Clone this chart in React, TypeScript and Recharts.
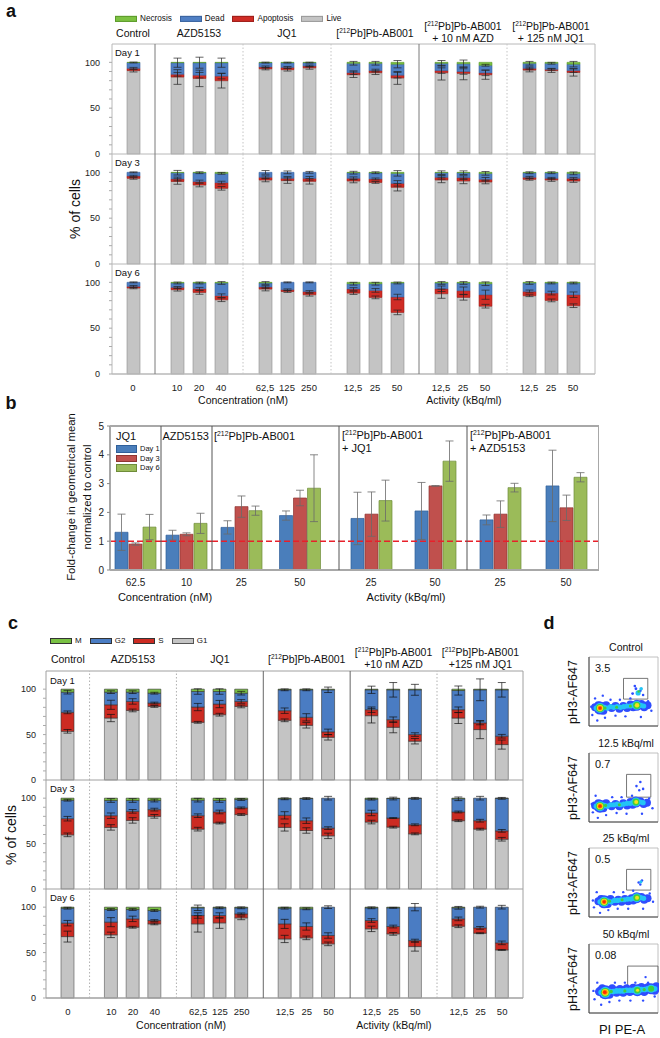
import React from "react";
import {
  BarChart,
  Bar,
  XAxis,
  YAxis,
  ReferenceLine,
  ReferenceArea,
  ErrorBar,
  ScatterChart,
  Scatter,
} from "recharts";

const FONT = "'Liberation Sans', Arial, Helvetica, sans-serif";

// x slots shared by panels a and c ("" = empty slot between groups)
const doseSlots = ["0", "", "10", "20", "40", "", "62,5", "125", "250", "", "12,5", "25", "50", "", "12,5", "25", "50", "", "12,5", "25", "50"];

// ---- panel a: viability (%), 16 bars per day ----
const liveD1 = [91, 84, 82.5, 80, 93, 92, 94, 86.5, 88.7, 83, 88.7, 88, 86.5, 91.6, 91, 89];
const apopD1 = [2.5, 3, 3.5, 5, 2, 2.5, 2, 2.2, 2.3, 3, 2.3, 2, 2, 1.9, 1.4, 2];
const deadD1 = [6.3, 12.6, 13.6, 14.6, 4.7, 5.2, 3.7, 10.3, 8, 12, 8, 8.5, 8.3, 5.5, 6.6, 7];
const necrD1 = [0.2, 0.4, 0.4, 0.4, 0.3, 0.3, 0.3, 1, 1, 2, 1, 1.5, 3.2, 1, 1, 2];
const liveErrD1 = [1.5, 8, 9, 8, 1.2, 1.5, 1.5, 3, 2, 7, 8, 7, 5, 2, 2, 4];
const apopErrD1 = [1, 2, 3, 3, 1, 1, 1, 2, 1.5, 3, 3, 3, 3, 1.5, 1, 2];
const deadErrD1 = [0.5, 5, 6, 5, 0.5, 0.5, 0.5, 2, 2, 4, 3, 4, 1, 2, 1, 3];

const liveD3 = [93.5, 90, 86.2, 82.6, 91.7, 91, 90.2, 90.6, 89, 83.7, 91.7, 90.6, 89.5, 92.4, 91.7, 90.6];
const apopD3 = [2.5, 2.8, 3.8, 6.2, 2.9, 2.5, 3.3, 2.9, 3.8, 4.3, 2.9, 3.6, 2.9, 2.2, 1.8, 2.9];
const deadD3 = [4, 6.8, 9.6, 10.1, 5.4, 6.5, 6.5, 6.1, 6.8, 10.9, 5, 5.4, 6.5, 5, 6.1, 5.4];
const necrD3 = [0, 0.4, 0.4, 1.1, 0, 0, 0, 0.4, 0.4, 1.1, 0.4, 0.4, 1.1, 0.4, 0.4, 1.1];
const liveErrD3 = [1, 3, 2, 2, 2, 3, 3, 2, 1, 4, 3, 3, 2, 1, 1.5, 1.5];
const apopErrD3 = [0.8, 2, 1.5, 1.5, 1.5, 2, 2, 1.5, 1, 3, 2, 2, 2, 1, 1, 1];
const deadErrD3 = [0.5, 2.5, 1, 1, 2, 1.5, 1, 1.5, 1, 3, 2, 2, 2, 1, 1, 1.5];

const liveD6 = [93.8, 92, 89, 81, 92.7, 90, 86.5, 88.3, 83.6, 67.2, 87.6, 83.6, 74, 85.4, 80.3, 74.5];
const apopD6 = [1.8, 2.5, 4, 4.4, 2.2, 2, 3.5, 4.4, 7.6, 16.8, 5.4, 7.3, 12.5, 4.7, 8, 12];
const deadD6 = [4.4, 4.8, 6.3, 13.9, 4.4, 8, 10, 5.8, 7.3, 15.3, 6.3, 8.4, 12, 9.2, 11, 12.8];
const necrD6 = [0, 0.7, 0.7, 0.7, 0.7, 0, 0, 1.5, 1.5, 0.7, 0.7, 0.7, 1.5, 0.7, 0.7, 0.7];
const liveErrD6 = [0.8, 1.5, 2, 2, 2, 1, 1.5, 1.5, 1.5, 2.5, 5, 3, 2, 1, 1.5, 2];
const apopErrD6 = [1, 1, 1.5, 2, 1.5, 0.8, 1, 1.5, 2, 3, 3, 4, 5, 1.5, 2, 3];
const deadErrD6 = [0.5, 1, 1, 1.5, 1.5, 0.5, 0.5, 1.5, 1.5, 1, 1.5, 1.5, 2, 1.5, 1, 1];

// ---- panel b: fold change of pH3 geometric mean ----
const foldLabels = ["62.5", "10", "25", "50", "25", "50", "25", "50"];
const foldDay1 = [1.31, 1.21, 1.48, 1.89, 1.79, 2.05, 1.74, 2.92];
const foldDay3 = [0.9, 1.24, 2.2, 2.5, 1.94, 2.92, 1.94, 2.16];
const foldDay6 = [1.49, 1.62, 2.06, 2.84, 2.41, 3.78, 2.86, 3.22];
const foldErr1 = [0.63, 0.17, 0.23, 0.16, 0.91, 0.99, 0.17, 1.24];
const foldErr3 = [0.04, 0.05, 0.37, 0.27, 0.77, 0.01, 0.46, 0.44];
const foldErr6 = [0.44, 0.35, 0.16, 1.16, 0.71, 0.7, 0.15, 0.16];

// ---- panel c: cell cycle (%), 16 bars per day ----
const g1D1 = [53.6, 68.2, 76.6, 81, 63.5, 71.9, 81, 65.7, 60.2, 47, 70.8, 58, 42.7, 68.2, 55.5, 39];
const sD1 = [20.9, 14.6, 9.9, 3.7, 16.8, 11.7, 5.5, 10.6, 8.8, 6, 6.6, 8.4, 7.3, 9.2, 7.3, 9.2];
const g2D1 = [22.2, 13.9, 10.2, 10.9, 17.1, 13.8, 9.1, 23, 30.3, 46.3, 21.9, 32.9, 49.3, 21.1, 36.5, 51.1];
const mD1 = [3.3, 3.3, 3.3, 4.4, 2.6, 2.6, 4.4, 0.7, 0.7, 0.7, 0.7, 0.7, 0.7, 1.5, 0.7, 0.7];
const g1ErrD1 = [2, 4, 1.5, 1, 1, 1.5, 1.5, 1.5, 3, 3, 8, 6, 3, 6, 10, 5];
const sErrD1 = [1.5, 5, 3, 1, 4, 4, 2, 3, 4, 3, 3, 3, 2, 3, 2, 2];
const g2ErrD1 = [2, 1.5, 1.5, 1, 3, 3, 2, 1, 1, 3, 4, 8, 6, 5, 12, 8];

const g1D3 = [59.6, 67.8, 75.5, 80, 65.9, 72.6, 81.9, 67.8, 64.4, 58.5, 73.7, 68.1, 60.7, 75.2, 65.9, 54.8];
const sD3 = [17.8, 12.9, 10, 7.4, 14.8, 12.2, 7.4, 13.3, 10.8, 8.5, 10, 10, 10, 9.6, 9.3, 9.2];
const g2D3 = [20.4, 16.7, 11.9, 10, 17.1, 12.6, 9.2, 18.2, 24.4, 33, 15.2, 21.5, 29.1, 14.5, 24.8, 35.8];
const mD3 = [2.2, 2.6, 2.6, 2.6, 2.2, 2.6, 1.5, 0.7, 0.4, 0, 1.1, 0.4, 0.2, 0.7, 0, 0.2];
const g1ErrD3 = [2, 3, 3, 2, 2, 1, 1, 4, 3, 3, 2, 1, 1, 1, 1, 2];
const sErrD3 = [2.5, 3, 2, 1.5, 2, 2, 1, 4, 3, 1.5, 3, 0.5, 1, 1, 1.5, 1.5];
const g2ErrD3 = [1, 2, 2, 1.5, 2, 2, 1, 1, 1, 2, 1, 1.5, 1, 2, 2, 1];

const g1D6 = [67.6, 69.5, 77.9, 81.6, 81.6, 82.7, 88.2, 65, 66.2, 59.6, 76.1, 70.6, 56.6, 79, 71.3, 52.9];
const sD6 = [14.8, 14, 9.2, 3.7, 9.2, 8.1, 4.4, 16.6, 12.5, 9.2, 9.2, 8.1, 6.6, 8.1, 5.9, 7.8];
const g2D6 = [16.5, 13.9, 10.3, 11, 8.5, 8.5, 6.7, 17.3, 19.5, 31.2, 14, 20.6, 36.8, 12.2, 22.8, 39.3];
const mD6 = [1.1, 2.6, 2.6, 3.7, 0.7, 0.7, 0.7, 1.1, 1.8, 0, 0.7, 0.7, 0, 0.7, 0, 0];
const g1ErrD6 = [6, 3, 1, 1, 9, 6, 2, 4, 2, 2, 3, 1.5, 5, 1.5, 0.5, 0.5];
const sErrD6 = [3, 5, 3, 1, 3, 3, 1, 5, 4, 3, 2, 1.5, 1.5, 2, 1.5, 2];
const g2ErrD6 = [1, 1, 1, 1, 3, 1, 1, 1, 1, 1.5, 1, 0.5, 4, 1.5, 1, 2];

// ---- panel d: flow cytometry density, [PI, pH3, density level, radius] ----
const flowCtrl = [
  [12, 16, 0, 1.2], [22, 40, 0, 1.2], [30, 8, 0, 1.2], [58, 12, 0, 1.2], [78, 38, 0, 1.2], [96, 15, 0, 1.2], [112, 38, 0, 1.2],
  [132, 14, 0, 1.2], [150, 40, 0, 1.2], [188, 13, 0, 1.2], [214, 36, 0, 1.2], [226, 22, 0, 1.2], [50, 44, 0, 1.2], [8, 28, 0, 1.2],
  [22, 27, 0, 4], [34, 30, 0, 4], [52, 22, 0, 4], [62, 30, 0, 4], [82, 26, 0, 4], [96, 29, 0, 4], [110, 25, 0, 4],
  [124, 29, 0, 4], [138, 26, 0, 4], [150, 31, 0, 4], [160, 27, 0, 4], [190, 32, 0, 4], [200, 27, 0, 4], [212, 30, 0, 4],
  [40, 26, 0, 6.5], [173, 30, 0, 5.5],
  [26, 26, 1, 2.6], [56, 27, 1, 2.6], [66, 26, 1, 2.6], [78, 28, 1, 2.6], [90, 27, 1, 2.6], [102, 28, 1, 2.6], [114, 27, 1, 2.6],
  [126, 28, 1, 2.6], [138, 29, 1, 2.6], [150, 29, 1, 2.6], [160, 30, 1, 2.6], [188, 30, 1, 2.6], [198, 29, 1, 2.6],
  [40, 26, 1, 5], [173, 30, 1, 4.5],
  [40, 26, 2, 4], [173, 30, 2, 3.6], [58, 26, 2, 1.6], [100, 27, 2, 1.5], [150, 29, 2, 1.5],
  [40, 26, 3, 3.1], [174, 30, 3, 2.2], [40, 26, 4, 2.3], [40, 26, 5, 1.6],
  [158, 47, 0, 1.4], [170, 54, 0, 1.4], [186, 51, 0, 1.4], [196, 45, 0, 1.3], [166, 58, 0, 1.3],
  [178, 48, 1, 2.6], [189, 54, 1, 1.8], [180, 50, 2, 1.3],
];
const flow125 = [
  [14, 14, 0, 1.2], [24, 38, 0, 1.2], [32, 6, 0, 1.2], [62, 10, 0, 1.2], [84, 36, 0, 1.2], [100, 13, 0, 1.2], [118, 36, 0, 1.2],
  [136, 12, 0, 1.2], [156, 38, 0, 1.2], [192, 12, 0, 1.2], [218, 34, 0, 1.2], [230, 20, 0, 1.2], [10, 26, 0, 1.2],
  [22, 24, 0, 4], [34, 27, 0, 4], [52, 20, 0, 4], [62, 27, 0, 4], [82, 23, 0, 4], [96, 26, 0, 4], [110, 23, 0, 4],
  [124, 27, 0, 4], [138, 24, 0, 4], [150, 29, 0, 4], [158, 25, 0, 4], [186, 30, 0, 4], [198, 26, 0, 4], [210, 28, 0, 4],
  [40, 23, 0, 6.5], [170, 29, 0, 5.5],
  [26, 23, 1, 2.6], [56, 24, 1, 2.6], [66, 23, 1, 2.6], [78, 25, 1, 2.6], [90, 25, 1, 2.6], [102, 26, 1, 2.6], [114, 25, 1, 2.6],
  [126, 26, 1, 2.6], [138, 27, 1, 2.6], [150, 27, 1, 2.6], [158, 28, 1, 2.6], [186, 29, 1, 2.6], [196, 28, 1, 2.6],
  [40, 23, 1, 5], [170, 29, 1, 4.5],
  [40, 23, 2, 4], [170, 29, 2, 3.4], [60, 24, 2, 1.6], [110, 25, 2, 1.5],
  [40, 23, 3, 3.1], [171, 29, 3, 2], [40, 23, 4, 2.3], [40, 23, 5, 1.6],
  [172, 52, 0, 1.3], [186, 58, 0, 1.3], [196, 48, 0, 1.3], [182, 46, 0, 1.2],
];
const flow25 = [
  [18, 14, 0, 1.2], [28, 36, 0, 1.2], [40, 6, 0, 1.2], [70, 10, 0, 1.2], [90, 36, 0, 1.2], [104, 12, 0, 1.2], [124, 36, 0, 1.2],
  [142, 12, 0, 1.2], [160, 38, 0, 1.2], [196, 12, 0, 1.2], [220, 34, 0, 1.2], [232, 22, 0, 1.2], [14, 24, 0, 1.2],
  [34, 23, 0, 4], [44, 26, 0, 4], [68, 19, 0, 4], [78, 26, 0, 4], [94, 22, 0, 4], [106, 25, 0, 4], [118, 22, 0, 4],
  [130, 26, 0, 4], [142, 23, 0, 4], [154, 27, 0, 4], [160, 24, 0, 4], [190, 29, 0, 4], [200, 25, 0, 4], [212, 27, 0, 4],
  [55, 22, 0, 6.5], [173, 28, 0, 5.5],
  [40, 22, 1, 2.6], [70, 23, 1, 2.6], [80, 22, 1, 2.6], [92, 24, 1, 2.6], [104, 24, 1, 2.6], [116, 25, 1, 2.6],
  [128, 25, 1, 2.6], [140, 26, 1, 2.6], [152, 26, 1, 2.6], [160, 27, 1, 2.6], [188, 28, 1, 2.6], [198, 27, 1, 2.6],
  [55, 22, 1, 5], [173, 28, 1, 4.5],
  [55, 22, 2, 4], [173, 28, 2, 3.4], [74, 23, 2, 1.6], [120, 25, 2, 1.5],
  [55, 22, 3, 3.1], [174, 28, 3, 2], [55, 22, 4, 2.3], [55, 22, 5, 1.6],
  [180, 50, 0, 1.3], [192, 53, 0, 1.3], [186, 47, 0, 1.2], [188, 51, 1, 1.6],
];
const flow50 = [
  [20, 20, 0, 1.2], [30, 44, 0, 1.2], [44, 12, 0, 1.2], [74, 16, 0, 1.2], [94, 44, 0, 1.2], [110, 18, 0, 1.2], [130, 44, 0, 1.2],
  [150, 18, 0, 1.2], [168, 44, 0, 1.2], [196, 18, 0, 1.2], [214, 44, 0, 1.2], [238, 24, 0, 1.2], [16, 32, 0, 1.2],
  [38, 31, 0, 4.5], [48, 35, 0, 4.5], [74, 27, 0, 4.5], [84, 35, 0, 4.5], [100, 30, 0, 4.5], [112, 34, 0, 4.5], [124, 30, 0, 4.5],
  [136, 35, 0, 4.5], [148, 31, 0, 4.5], [160, 36, 0, 4.5], [190, 37, 0, 4.5], [200, 31, 0, 4.5], [214, 37, 0, 4.5],
  [238, 33, 0, 4.5], [244, 38, 0, 4.5],
  [59, 30, 0, 7], [175, 33, 0, 6], [225, 35, 0, 5.5],
  [44, 30, 1, 2.8], [76, 31, 1, 2.8], [88, 31, 1, 2.8], [100, 32, 1, 2.8], [112, 32, 1, 2.8], [124, 32, 1, 2.8], [136, 33, 1, 2.8],
  [148, 33, 1, 2.8], [160, 33, 1, 2.8], [190, 34, 1, 2.8], [202, 34, 1, 2.8], [212, 35, 1, 2.8], [238, 35, 1, 2.8],
  [59, 30, 1, 5.5], [175, 33, 1, 4.5], [225, 35, 1, 4],
  [59, 30, 2, 4.4], [175, 33, 2, 3.2], [225, 35, 2, 3], [80, 31, 2, 1.8], [130, 32, 2, 1.6], [200, 34, 2, 1.6],
  [59, 30, 3, 3.4], [176, 33, 3, 1.6], [58, 30, 4, 2.5], [57, 30, 5, 1.8],
  [205, 52, 0, 1.2],
];
const flowSets = [flowCtrl, flow125, flow25, flow50];
const flowTitles = ["Control", "12.5 kBq/ml", "25 kBq/ml", "50 kBq/ml"];
const flowPercents = ["3.5", "0.7", "0.5", "0.08"];
const flowGates = [
  [125, 213, 39, 69],
  [136, 224, 36, 69],
  [136, 224, 39, 69],
  [140, 250, 38, 68],
];
const heat = ["#2f4dff", "#23c4f5", "#3fd03f", "#f2e21c", "#ff8a00", "#ff2a00"];

const pctTicks = [0, 10, 20, 30, 40, 50, 60, 70, 80, 90, 100];

function slotRows(series: Record<string, number[]>) {
  let k = 0;
  return doseSlots.map((label, i) => {
    const row: Record<string, string | number> = { id: `s${i}`, label };
    if (label) {
      Object.keys(series).forEach((key) => {
        row[key] = series[key][k];
      });
      k += 1;
    }
    return row;
  });
}

const labelById: Record<string, string> = {};
doseSlots.forEach((l, i) => {
  labelById[`s${i}`] = l;
});

const viabilityDays = [
  slotRows({ live: liveD1, apop: apopD1, dead: deadD1, necr: necrD1, liveE: liveErrD1, apopE: apopErrD1, deadE: deadErrD1 }),
  slotRows({ live: liveD3, apop: apopD3, dead: deadD3, necr: necrD3, liveE: liveErrD3, apopE: apopErrD3, deadE: deadErrD3 }),
  slotRows({ live: liveD6, apop: apopD6, dead: deadD6, necr: necrD6, liveE: liveErrD6, apopE: apopErrD6, deadE: deadErrD6 }),
];
const cycleDays = [
  slotRows({ g1: g1D1, s: sD1, g2: g2D1, m: mD1, g1E: g1ErrD1, sE: sErrD1, g2E: g2ErrD1 }),
  slotRows({ g1: g1D3, s: sD3, g2: g2D3, m: mD3, g1E: g1ErrD3, sE: sErrD3, g2E: g2ErrD3 }),
  slotRows({ g1: g1D6, s: sD6, g2: g2D6, m: mD6, g1E: g1ErrD6, sE: sErrD6, g2E: g2ErrD6 }),
];

const viabilitySegs = [
  { key: "live", err: "liveE", fill: "#c4c4c4", stroke: "#8e8e8e" },
  { key: "apop", err: "apopE", fill: "#d02c25", stroke: "#9c1f1a" },
  { key: "dead", err: "deadE", fill: "#4f7fc4", stroke: "#3a639e" },
  { key: "necr", err: "", fill: "#7dc242", stroke: "#5c9a2c" },
];
const cycleSegs = [
  { key: "g1", err: "g1E", fill: "#c4c4c4", stroke: "#555" },
  { key: "s", err: "sE", fill: "#cc2b22", stroke: "#333" },
  { key: "g2", err: "g2E", fill: "#4a7cc3", stroke: "#333" },
  { key: "m", err: "", fill: "#79c143", stroke: "#333" },
];

function Sup({ children }: { children: React.ReactNode }) {
  return <span style={{ fontSize: "0.62em", position: "relative", top: "-0.55em" }}>{children}</span>;
}
const PB = (
  <>
    [<Sup>212</Sup>Pb]Pb-AB001
  </>
);

function Txt({ x, y, size = 10, anchor = "middle", bold = false, rotate = 0, lh = 1.15, children }: any) {
  const tx = anchor === "middle" ? "-50%" : anchor === "end" ? "-100%" : "0%";
  return (
    <div
      style={{
        position: "absolute",
        left: x,
        top: y,
        transform: `translate(${tx}, -50%)${rotate ? ` rotate(${rotate}deg)` : ""}`,
        fontSize: size,
        lineHeight: lh,
        fontWeight: bold ? 700 : 400,
        whiteSpace: "nowrap",
        textAlign: anchor === "start" ? "left" : "center",
        color: "#111",
      }}
    >
      {children}
    </div>
  );
}

function RowLegend({ x, y, items, size }: any) {
  return (
    <div style={{ position: "absolute", left: x, top: y, transform: "translateY(-50%)", display: "flex", gap: 8, fontSize: size, lineHeight: 1, alignItems: "center" }}>
      {items.map((it: any) => (
        <div key={it.label} style={{ display: "flex", alignItems: "center", gap: 3 }}>
          <div style={{ width: 20, height: 4, background: it.fill, border: `0.5px solid ${it.stroke}` }} />
          <span>{it.label}</span>
        </div>
      ))}
    </div>
  );
}

const EDGE = 6; // room above/below each plot so edge tick labels are not clipped

function StackPanel({ days, segs, tops, h, left, right, pad, solid, dotted, frame, solidColor, dotColor, errColor, tickMargin }: any) {
  const axisW = 30;
  return (
    <>
      {days.map((rows: any[], d: number) => {
        const showX = d === days.length - 1;
        return (
          <div key={d} style={{ position: "absolute", left: 0, top: tops[d] - EDGE }}>
            <BarChart
              width={660}
              height={h + EDGE + (showX ? 24 : EDGE)}
              data={rows}
              margin={{ top: EDGE, right: 660 - right - 1, bottom: showX ? 0 : EDGE, left: left - axisW }}
              barSize={13}
            >
              <XAxis
                dataKey="id"
                hide={!showX}
                height={24}
                padding={pad}
                interval={0}
                tickLine={false}
                axisLine={false}
                tickMargin={4}
                tick={{ fontSize: 9.5, fill: "#222" }}
                tickFormatter={(id: string) => labelById[id]}
              />
              <YAxis
                yAxisId="l"
                domain={[0, 120]}
                ticks={pctTicks}
                interval={0}
                width={axisW}
                tickSize={3}
                tickMargin={tickMargin}
                tick={{ fontSize: 9, fill: "#222" }}
                tickFormatter={(v: number) => (v % 50 === 0 ? String(v) : "")}
                axisLine={{ stroke: frame }}
                tickLine={{ stroke: "#aaa" }}
              />
              <YAxis yAxisId="r" orientation="right" domain={[0, 120]} width={1} tick={false} tickLine={false} axisLine={{ stroke: frame }} />
              {d === 0 && <ReferenceLine yAxisId="l" y={120} stroke={frame} />}
              <ReferenceLine yAxisId="l" y={0} stroke={frame} strokeWidth={showX ? 1.5 : 1} />
              {solid.map((i: number) => (
                <ReferenceLine key={`so${i}`} yAxisId="l" x={`s${i}`} stroke={solidColor} />
              ))}
              {dotted.map((i: number) => (
                <ReferenceLine key={`do${i}`} yAxisId="l" x={`s${i}`} stroke={dotColor} strokeDasharray="1.5 2" />
              ))}
              {segs.map((s: any) => (
                <Bar key={s.key} yAxisId="l" dataKey={s.key} stackId="v" fill={s.fill} stroke={s.stroke} strokeWidth={0.6} isAnimationActive={false}>
                  {s.err ? <ErrorBar dataKey={s.err} width={4} stroke={errColor} strokeWidth={0.7} direction="y" /> : null}
                </Bar>
              ))}
            </BarChart>
          </div>
        );
      })}
    </>
  );
}

function slotX(idx: number, left: number, right: number, pad: { left: number; right: number }) {
  const band = (right - left - pad.left - pad.right) / doseSlots.length;
  return left + pad.left + (idx + 0.5) * band;
}

function Headers({ y, left, right, pad, combo }: any) {
  const x = (i: number) => slotX(i, left, right, pad);
  return (
    <>
      <Txt x={x(0)} y={y} size={10.5}>Control</Txt>
      <Txt x={x(3)} y={y} size={10.5}>AZD5153</Txt>
      <Txt x={x(7)} y={y} size={10.5}>JQ1</Txt>
      <Txt x={x(11)} y={y} size={10.5}>{PB}</Txt>
      <Txt x={x(15)} y={y - 1} size={10.5} lh={1.15}>
        {PB}
        <br />
        {combo[0]}
      </Txt>
      <Txt x={x(19)} y={y - 1} size={10.5} lh={1.15}>
        {PB}
        <br />
        {combo[1]}
      </Txt>
    </>
  );
}

// panel b sections
const foldSections = [
  { from: 0, to: 1, x: 110, w: 51, padR: 0 },
  { from: 1, to: 2, x: 161, w: 51, padR: 0 },
  { from: 2, to: 4, x: 212, w: 127, padR: 10 },
  { from: 4, to: 6, x: 339, w: 128, padR: 0 },
  { from: 6, to: 8, x: 467, w: 130, padR: 0 },
];
const foldRows = foldLabels.map((label, i) => ({
  label,
  d1: foldDay1[i],
  d3: foldDay3[i],
  d6: foldDay6[i],
  e1: foldErr1[i],
  e3: foldErr3[i],
  e6: foldErr6[i],
}));
const foldSeries = [
  { key: "d1", err: "e1", fill: "#4a7ebb", stroke: "#2f5f99", label: "Day 1" },
  { key: "d3", err: "e3", fill: "#c0504d", stroke: "#8e3532", label: "Day 3" },
  { key: "d6", err: "e6", fill: "#9bbb59", stroke: "#6f8c3a", label: "Day 6" },
];

function FoldSection({ sec, idx }: any) {
  const first = idx === 0;
  const last = idx === foldSections.length - 1;
  const lw = first ? 30 : 1;
  const rw = last ? 2 : 0;
  const frame = "#a8a8a8";
  return (
    <div style={{ position: "absolute", left: sec.x - lw, top: 426 - EDGE }}>
      <BarChart
        width={sec.w + lw + rw}
        height={EDGE + 144 + 20}
        data={foldRows.slice(sec.from, sec.to)}
        margin={{ top: EDGE, right: 0, bottom: 0, left: 0 }}
        barSize={13}
        barGap={1}
      >
        <XAxis
          dataKey="label"
          height={20}
          interval={0}
          tickLine={false}
          tickMargin={3}
          padding={{ left: 0, right: sec.padR }}
          axisLine={{ stroke: frame, strokeWidth: 2 }}
          tick={{ fontSize: 10, fill: "#222" }}
        />
        <YAxis
          yAxisId="l"
          domain={[0, 5]}
          ticks={[0, 1, 2, 3, 4, 5]}
          interval={0}
          width={lw}
          tick={first ? { fontSize: 10, fill: "#222" } : false}
          tickLine={first ? { stroke: "#888" } : false}
          tickSize={3}
          tickMargin={3}
          axisLine={{ stroke: first ? frame : "#555", strokeWidth: first ? 2 : 1 }}
        />
        {last && (
          <YAxis
            yAxisId="r"
            orientation="right"
            domain={[0, 5]}
            ticks={[0, 1, 2, 3, 4, 5]}
            width={rw}
            mirror
            tick={false}
            tickSize={3}
            tickLine={{ stroke: "#999" }}
            axisLine={{ stroke: frame, strokeWidth: 2 }}
          />
        )}
        <ReferenceLine yAxisId="l" y={5} stroke={frame} strokeWidth={2} />
        {foldSeries.map((s) => (
          <Bar key={s.key} yAxisId="l" dataKey={s.key} fill={s.fill} stroke={s.stroke} strokeWidth={0.7} isAnimationActive={false}>
            <ErrorBar dataKey={s.err} width={4} stroke="#6a6a6a" strokeWidth={0.8} direction="y" />
          </Bar>
        ))}
        <ReferenceLine yAxisId="l" y={1} stroke="#e8202a" strokeWidth={1.6} strokeDasharray="6 3" />
      </BarChart>
    </div>
  );
}

const HeatDot = (p: any) => <circle cx={p.cx} cy={p.cy} r={p.payload.r} fill={heat[p.payload.lvl]} />;

const flowTops = [657, 753, 848, 944];

function FlowPlot({ idx }: { idx: number }) {
  const pts = flowSets[idx]
    .map(([x, y, lvl, r]) => ({ x, y, lvl, r }))
    .sort((a, b) => a.lvl - b.lvl);
  const [gx1, gx2, gy1, gy2] = flowGates[idx];
  return (
    <div style={{ position: "absolute", left: 589 - 3, top: flowTops[idx] - 1 }}>
      <ScatterChart width={3 + 68 + 2} height={1 + 69 + 3} margin={{ top: 1, right: 1, bottom: 0, left: 0 }}>
        <XAxis type="number" dataKey="x" domain={[0, 250]} ticks={[0, 50, 100, 150, 200, 250]} tick={false} tickSize={2} height={3} axisLine={{ stroke: "#444" }} tickLine={{ stroke: "#666" }} />
        <YAxis type="number" dataKey="y" domain={[0, 100]} ticks={[8, 20, 34, 52, 70, 88]} tick={false} tickSize={2} width={3} axisLine={{ stroke: "#444" }} tickLine={{ stroke: "#666" }} />
        <ReferenceArea x1={0} x2={250} y1={0} y2={100} fill="none" stroke="#b0b0b0" strokeWidth={0.8} />
        <Scatter data={pts} shape={HeatDot} isAnimationActive={false} />
        <ReferenceArea x1={gx1} x2={gx2} y1={gy1} y2={gy2} fill="none" stroke="#555" strokeWidth={0.8} />
      </ScatterChart>
    </div>
  );
}

export default function App() {
  const aPad = { left: 10, right: 11 };
  const cPad = { left: 11, right: 10 };
  return (
    <div style={{ position: "absolute", left: 0, top: 0, width: 660, height: 1038, overflow: "hidden", background: "#fff", fontFamily: FONT, color: "#111" }}>
      {/* ---------- a ---------- */}
      <Txt x={11} y={11} size={18} bold>a</Txt>
      <RowLegend
        x={115}
        y={19}
        size={8.2}
        items={[
          { label: "Necrosis", fill: "#7dc242", stroke: "#5c9a2c" },
          { label: "Dead", fill: "#4f7fc4", stroke: "#3a639e" },
          { label: "Apoptosis", fill: "#d02c25", stroke: "#9c1f1a" },
          { label: "Live", fill: "#c4c4c4", stroke: "#999" },
        ]}
      />
      <Headers y={33} left={112} right={595} pad={aPad} combo={["+ 10 nM AZD", "+ 125 nM JQ1"]} />
      <StackPanel
        days={viabilityDays}
        segs={viabilitySegs}
        tops={[44, 154, 264]}
        h={110}
        left={112}
        right={595}
        pad={aPad}
        solid={[1, 13]}
        dotted={[5, 9, 17]}
        frame="#b8b8b8"
        solidColor="#7a7a7a"
        dotColor="#c4c4c4"
        errColor="#222"
        tickMargin={9}
      />
      <Txt x={115} y={53} size={9.5} anchor="start">Day 1</Txt>
      <Txt x={115} y={163} size={9.5} anchor="start">Day 3</Txt>
      <Txt x={115} y={273} size={9.5} anchor="start">Day 6</Txt>
      <Txt x={75} y={209} size={14} rotate={-90}>% of cells</Txt>
      <Txt x={243} y={400} size={10.5}>Concentration (nM)</Txt>
      <Txt x={464} y={400} size={10.5}>Activity (kBq/ml)</Txt>

      {/* ---------- b ---------- */}
      <Txt x={11} y={403} size={18} bold>b</Txt>
      {foldSections.map((sec, i) => (
        <FoldSection key={i} sec={sec} idx={i} />
      ))}
      <Txt x={78.5} y={497} size={11.3} rotate={-90} lh={1.45}>
        Fold-change in geometrical mean
        <br />
        normalized to control
      </Txt>
      <Txt x={116} y={436} size={11} anchor="start">JQ1</Txt>
      <Txt x={162.5} y={436} size={11} anchor="start">AZD5153</Txt>
      <Txt x={214} y={436} size={11} anchor="start">{PB}</Txt>
      <Txt x={342} y={442} size={11} anchor="start" lh={1.2}>
        {PB}
        <br />+ JQ1
      </Txt>
      <Txt x={470} y={442} size={11} anchor="start" lh={1.2}>
        {PB}
        <br />+ AZD5153
      </Txt>
      <div style={{ position: "absolute", left: 116, top: 444, fontSize: 7.5, lineHeight: "9.5px" }}>
        {foldSeries.map((s) => (
          <div key={s.key} style={{ display: "flex", alignItems: "center", gap: 3 }}>
            <div style={{ width: 19, height: 5.5, background: s.fill, border: `0.5px solid ${s.stroke}` }} />
            <span>{s.label}</span>
          </div>
        ))}
      </div>
      <Txt x={165} y={597} size={11}>Concentration (nM)</Txt>
      <Txt x={406} y={597} size={11}>Activity (kBq/ml)</Txt>

      {/* ---------- c ---------- */}
      <Txt x={13} y={623} size={18} bold>c</Txt>
      <RowLegend
        x={50}
        y={641}
        size={8}
        items={[
          { label: "M", fill: "#79c143", stroke: "#333" },
          { label: "G2", fill: "#4a7cc3", stroke: "#333" },
          { label: "S", fill: "#cc2b22", stroke: "#333" },
          { label: "G1", fill: "#c4c4c4", stroke: "#555" },
        ]}
      />
      <Headers y={659} left={46} right={523} pad={cPad} combo={["+10 nM AZD", "+125 nM JQ1"]} />
      <StackPanel
        days={cycleDays}
        segs={cycleSegs}
        tops={[671, 780, 889]}
        h={109}
        left={46}
        right={523}
        pad={cPad}
        solid={[9, 13]}
        dotted={[1, 5, 17]}
        frame="#a0a0a0"
        solidColor="#666"
        dotColor="#b0b0b0"
        errColor="#111"
        tickMargin={7}
      />
      <Txt x={50} y={681} size={9.5} anchor="start">Day 1</Txt>
      <Txt x={50} y={789} size={9.5} anchor="start">Day 3</Txt>
      <Txt x={50} y={898} size={9.5} anchor="start">Day 6</Txt>
      <Txt x={11} y={835} size={14} rotate={-90}>% of cells</Txt>
      <Txt x={181} y={1025} size={10.5}>Concentration (nM)</Txt>
      <Txt x={394} y={1025} size={10.5}>Activity (kBq/ml)</Txt>

      {/* ---------- d ---------- */}
      <Txt x={549} y={623} size={18} bold>d</Txt>
      {flowTops.map((t, i) => (
        <React.Fragment key={i}>
          <Txt x={626} y={t - 10} size={10.5}>{flowTitles[i]}</Txt>
          <FlowPlot idx={i} />
          <Txt x={595} y={t + 11} size={11} anchor="start">{flowPercents[i]}</Txt>
          <Txt x={573} y={t + 35} size={12.5} rotate={-90}>pH3-AF647</Txt>
        </React.Fragment>
      ))}
      <Txt x={622} y={1030} size={13}>PI PE-A</Txt>
    </div>
  );
}
